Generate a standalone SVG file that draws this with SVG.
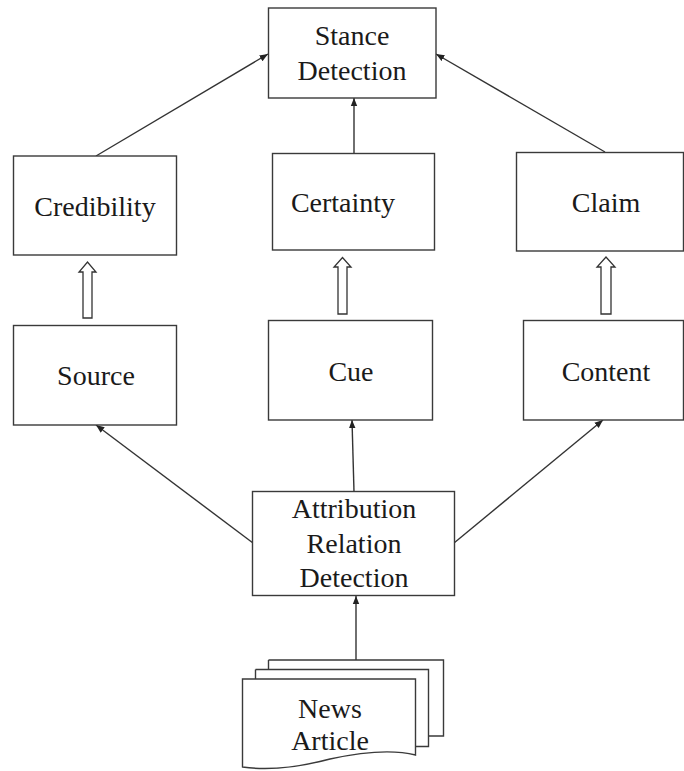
<svg xmlns="http://www.w3.org/2000/svg" width="684" height="771" viewBox="0 0 684 771">
  <style>
    .box { fill: #ffffff; stroke: #3a3a3a; stroke-width: 1.4; }
    .lbl { font-family: "Liberation Serif", "Times New Roman", serif; font-size: 28px; fill: #1a1a1a; text-anchor: middle; }
    .edge { stroke: #333333; stroke-width: 1.4; fill: none; marker-end: url(#tip); }
    .hollow { fill: #ffffff; stroke: #333333; stroke-width: 1.3; stroke-linejoin: miter; }
  </style>
  <defs>
    <marker id="tip" viewBox="0 0 10 10" refX="10" refY="5" markerWidth="6" markerHeight="6" markerUnits="strokeWidth" orient="auto">
      <path d="M0,1 L10,5 L0,9 Z" fill="#222222"/>
    </marker>
  </defs>
  <rect width="684" height="771" fill="#ffffff"/>

  <!-- connectors -->
  <g id="connectors">
    <line class="edge" x1="96" y1="156" x2="268" y2="54"/>
    <line class="edge" x1="354" y1="153" x2="354" y2="98"/>
    <line class="edge" x1="605" y1="152" x2="436" y2="54"/>
    <line class="edge" x1="253" y1="543" x2="96" y2="425"/>
    <line class="edge" x1="354" y1="492" x2="352" y2="420"/>
    <line class="edge" x1="454" y1="543" x2="603" y2="420"/>
    <line class="edge" x1="356" y1="660" x2="356" y2="596"/>
    <!-- hollow block arrows between layers -->
    <path class="hollow" d="M83,318 V272 H79 L87.5,262 L96,272 H92 V318 Z"/>
    <path class="hollow" d="M338,314 V267 H334 L342.5,257.5 L351,267 H347 V314 Z"/>
    <path class="hollow" d="M601,314 V267 H597 L606,257 L615,267 H611 V314 Z"/>
  </g>

  <g id="stance">
    <rect class="box" x="268.5" y="8" width="167.5" height="90"/>
    <text class="lbl" x="352" y="45">Stance</text>
    <text class="lbl" x="352" y="80">Detection</text>
  </g>

  <g id="credibility">
    <rect class="box" x="13.5" y="156" width="163" height="99"/>
    <text class="lbl" x="95" y="216">Credibility</text>
  </g>

  <g id="certainty">
    <rect class="box" x="272.5" y="153.5" width="162" height="96.5"/>
    <text class="lbl" x="343" y="212">Certainty</text>
  </g>

  <g id="claim">
    <rect class="box" x="516.5" y="152.5" width="167" height="98.5"/>
    <text class="lbl" x="606" y="212">Claim</text>
  </g>

  <g id="source">
    <rect class="box" x="13.5" y="325.5" width="163" height="99.5"/>
    <text class="lbl" x="96" y="385">Source</text>
  </g>

  <g id="cue">
    <rect class="box" x="268.5" y="320.5" width="164" height="99.5"/>
    <text class="lbl" x="351" y="381">Cue</text>
  </g>

  <g id="content">
    <rect class="box" x="523.5" y="320.5" width="160" height="99.5"/>
    <text class="lbl" x="606" y="381">Content</text>
  </g>

  <g id="attribution">
    <rect class="box" x="252.5" y="491.5" width="202" height="104"/>
    <text class="lbl" x="354" y="518">Attribution</text>
    <text class="lbl" x="354" y="553">Relation</text>
    <text class="lbl" x="354" y="587">Detection</text>
  </g>

  <!-- stacked document pages -->
  <g id="news">
    <path class="box" d="M268.5,660 H443.5 V736 H428"/>
    <path class="box" d="M268.5,669 V660"/>
    <path class="box" d="M255.5,669.5 H428.5 V746.5 H416"/>
    <path class="box" d="M255.5,679 V669.5"/>
    <path class="box" d="M242.5,679 H415.5 V755 C392,749 362,752 330,759 C300,767 270,771 242.5,767 Z"/>
    <text class="lbl" x="330" y="718">News</text>
    <text class="lbl" x="330" y="750">Article</text>
  </g>
</svg>
